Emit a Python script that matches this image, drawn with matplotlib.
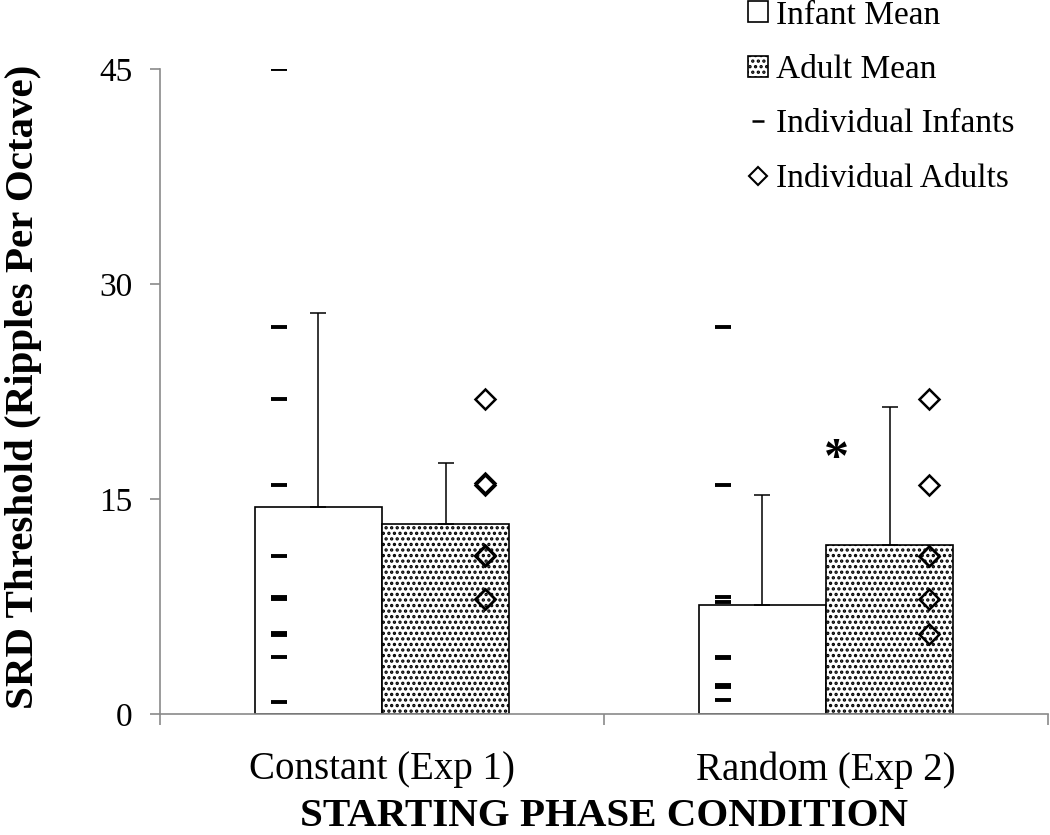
import matplotlib
matplotlib.use("Agg")
import matplotlib.pyplot as plt
from matplotlib.patches import Patch
from matplotlib.lines import Line2D
import numpy as np

plt.rcParams['font.family'] = ['Liberation Serif', 'DejaVu Serif']
plt.rcParams['hatch.linewidth'] = 1.6

# ---- data ----
categories = ["Constant (Exp 1)", "Random (Exp 2)"]
infant_mean = [14.45, 7.6]
adult_mean = [13.25, 11.8]
infant_err_up = [13.55, 7.65]
adult_err_up = [4.25, 9.6]
infant_individual_constant = [45, 27, 22, 16, 11, 8.0, 8.15, 5.5, 5.65, 4, 0.85]
infant_individual_random = [27, 16, 8.15, 7.8, 4.0, 3.9, 2.0, 1.9, 0.95]
adult_individual_constant = [22, 16, 16.1, 11, 11.1, 8.0, 8.05]
adult_individual_random = [22, 16, 11, 11.05, 8.0, 5.6]
yticks = [0, 15, 30, 45]

fig = plt.figure(figsize=(10.5, 8.35), dpi=100)
ax = fig.add_axes([160/1050, 1 - 714/835, 888/1050, 645/835])

x = np.arange(len(categories))
w = 0.287
ax.bar(x - w/2, infant_mean, width=w, facecolor='white', edgecolor='black', linewidth=1.2, zorder=2)
ax.bar(x + w/2, adult_mean, width=w, facecolor='white', edgecolor='black', linewidth=1.2,
       hatch='...', zorder=2)
ax.errorbar(x - w/2, infant_mean, yerr=[np.zeros(len(x)), infant_err_up], fmt='none',
            ecolor='black', elinewidth=1.1, capsize=5.5, capthick=1.1, zorder=3)
ax.errorbar(x + w/2, adult_mean, yerr=[np.zeros(len(x)), adult_err_up], fmt='none',
            ecolor='black', elinewidth=1.1, capsize=5.5, capthick=1.1, zorder=3)

off = 0.233
dash_kw = dict(linestyle='none', marker='_', markersize=11, markeredgewidth=2.8, color='black', zorder=4)
dia_kw = dict(linestyle='none', marker='D', markersize=10, markeredgewidth=1.8,
              markerfacecolor='none', markeredgecolor='black', zorder=4)
ax.plot([x[0] - off] * len(infant_individual_constant), infant_individual_constant, **dash_kw)
ax.plot([x[1] - off] * len(infant_individual_random), infant_individual_random, **dash_kw)
ax.plot([x[0] + off] * len(adult_individual_constant), adult_individual_constant, **dia_kw)
ax.plot([x[1] + off] * len(adult_individual_random), adult_individual_random, **dia_kw)

ax.text(1.024, 17.7, '*', fontsize=36, fontweight='bold', ha='center', va='center', zorder=5)

ax.set_xlim(-0.5, 1.5)
ax.set_ylim(0, 45)
ax.set_yticks(yticks)
ax.set_yticklabels([str(t) for t in yticks])
ax.set_xticks(x)
ax.set_xticklabels(categories)
ax.set_xticks([-0.5, 0.5, 1.5], minor=True)

gray = '#8a8a8a'
for s in ['top', 'right']:
    ax.spines[s].set_visible(False)
for s in ['left', 'bottom']:
    ax.spines[s].set_color(gray)
    ax.spines[s].set_linewidth(1.2)

ax.tick_params(axis='y', direction='out', length=7, width=1.2, color=gray, labelsize=24, pad=13)
ax.tick_params(axis='x', which='major', length=0, labelsize=28, pad=27)
ax.tick_params(axis='x', which='minor', direction='out', length=8, width=1.2, color=gray)

ax.set_ylabel('SRD Threshold (Ripples Per Octave)', fontsize=29.5, fontweight='bold')
ax.yaxis.set_label_coords(-0.133, 0.507)
ax.set_xlabel('STARTING PHASE CONDITION', fontsize=29.5, fontweight='bold')
ax.xaxis.set_label_coords(0.5, -0.131)

handles = [
    Patch(facecolor='white', edgecolor='black', linewidth=1.2, label='Infant Mean'),
    Patch(facecolor='white', edgecolor='black', linewidth=1.2, hatch='...', label='Adult Mean'),
    Line2D([], [], linestyle='none', marker='_', markersize=9, markeredgewidth=1.8, color='black',
           label='Individual Infants'),
    Line2D([], [], linestyle='none', marker='D', markersize=9, markeredgewidth=1.5,
           markerfacecolor='none', markeredgecolor='black', label='Individual Adults'),
]
fig.legend(handles=handles, loc='upper left', bbox_to_anchor=(748/1050, 1.0), frameon=False,
           fontsize=24, handlelength=0.6, handleheight=0.6, handletextpad=0.25,
           labelspacing=0.72, borderpad=0, borderaxespad=0)

fig.savefig('out.png', dpi=100)
